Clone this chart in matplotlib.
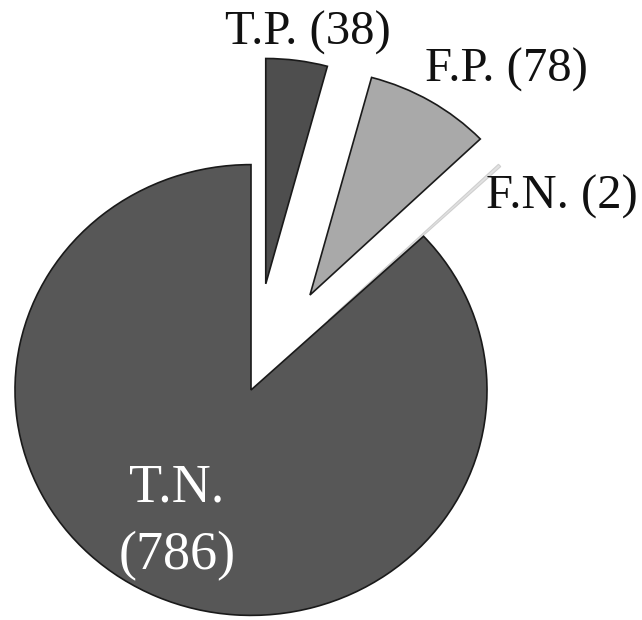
import matplotlib
matplotlib.use("Agg")
import matplotlib.pyplot as plt

plt.rcParams["font.family"] = "serif"
plt.rcParams["font.serif"] = ["Liberation Serif", "DejaVu Serif"]

# Confusion-matrix counts shown as an exploded pie
labels = ["T.P.", "F.P.", "F.N.", "T.N."]
counts = [38, 78, 2, 786]
colors = ["#4e4e4e", "#a9a9a9", "#e2e2e2", "#575757"]
explode_frac = [0.475, 0.49, 0.45, 0.0]

W, H = 642, 620
R = 236
TILT = 0.955            # slight vertical squash of the disc
YSPAN = H / TILT


def py(pix_y):
    """Convert a pixel row (from the top) to the squashed data y."""
    return (H - pix_y) / TILT


fig = plt.figure(figsize=(W / 100, H / 100), dpi=100)
ax = fig.add_axes([0, 0, 1, 1])

# pie() offsets wedges in data units, so scale the fractions by the radius
wedges, _ = ax.pie(
    counts,
    explode=[e * R for e in explode_frac],
    colors=colors,
    startangle=90,
    counterclock=False,
    center=(251, py(390)),
    radius=R,
    wedgeprops=dict(edgecolor="#1a1a1a", linewidth=1.2),
    frame=True,
)
wedges[2].set_edgecolor("#cfcfcf")
wedges[2].set_linewidth(0.8)
ax.set_xlim(0, W)
ax.set_ylim(0, YSPAN)
ax.set_aspect("auto")
ax.axis("off")

ax.text(308, py(33), f"{labels[0]} ({counts[0]})", ha="center", va="center",
        fontsize=35, color="#111111")
ax.text(506, py(70), f"{labels[1]} ({counts[1]})", ha="center", va="center",
        fontsize=35, color="#111111")
ax.text(562, py(197), f"{labels[2]} ({counts[2]})", ha="center", va="center",
        fontsize=35, color="#111111")
ax.text(177, py(488), f"{labels[3]}", ha="center", va="center",
        fontsize=39, color="white")
ax.text(177, py(556), f"({counts[3]})", ha="center", va="center",
        fontsize=39, color="white")

fig.savefig("out.png", dpi=100, facecolor="white")
